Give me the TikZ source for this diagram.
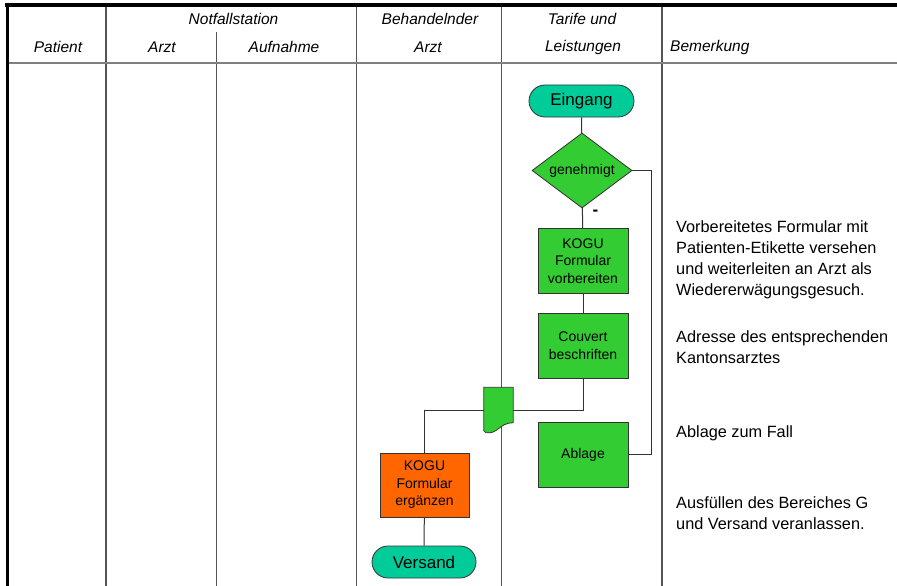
\documentclass[tikz,border=0pt]{standalone}
\usepackage{fontspec}
\setmainfont{Liberation Sans}
\usetikzlibrary{calc,shapes.geometric,shapes.misc}
\definecolor{teal}{HTML}{00CC99}
\definecolor{leaf}{HTML}{33CC33}
\definecolor{rust}{HTML}{FF6600}
\definecolor{edge}{HTML}{333333}
\definecolor{lane}{HTML}{555555}
\begin{document}
\begin{tikzpicture}[x=1pt,y=-1pt,
  hdr/.style={font=\fontsize{15.5}{15.5}\selectfont\itshape, inner sep=0pt},
  note/.style={font=\fontsize{16.3}{21.3}\selectfont, align=left, anchor=north west, inner sep=0pt},
  terminal/.style={rounded rectangle, draw=edge, line width=0.8pt, fill=teal,
    minimum width=105pt, minimum height=32pt, inner sep=0pt,
    font=\fontsize{17}{17}\selectfont},
  decision/.style={diamond, draw=edge, line width=0.8pt, fill=leaf, aspect=1.33,
    minimum width=100pt, minimum height=75pt, inner sep=0pt,
    font=\fontsize{14}{14}\selectfont},
  task/.style={rectangle, draw=edge, line width=0.8pt, fill=leaf,
    minimum width=90pt, minimum height=65pt, inner sep=0pt, align=center,
    font=\fontsize{14}{17.5}\selectfont},
  flow/.style={draw=edge, line width=1pt},
  laneline/.style={draw=lane, line width=1.5pt}]
\useasboundingbox (0,0) rectangle (897,586);
\fill[white] (0,0) rectangle (897,586);

% swimlane grid
\draw[laneline] (106,5) -- (106,586);
\draw[laneline] (216.5,32) -- (216.5,586);
\draw[laneline] (356.5,5) -- (356.5,586);
\draw[laneline] (501.5,5) -- (501.5,586);
\draw[laneline] (662,5) -- (662,586);
\draw[draw=gray, line width=2pt] (7,63) -- (897,63);
\draw[black, line width=4pt] (5,5) -- (897,5);
\draw[black, line width=3pt] (7.5,3) -- (7.5,586);

% column headings
\node[hdr] (hNot) at (233.5,18.5) {Notfallstation};
\node[hdr] (hPat) at (58,47) {Patient};
\node[hdr] (hArzt) at (162,47) {Arzt};
\node[hdr] (hAuf) at (284,47) {Aufnahme};
\node[hdr] (hBeh) at (430,18.5) {Behandelnder};
\node[hdr] (hBehArzt) at (428,47) {Arzt};
\node[hdr] (hTar) at (582,18.5) {Tarife und};
\node[hdr] (hLei) at (583,47) {Leistungen};
\node[hdr, anchor=west] (hBem) at (670,47) {Bemerkung};

% flow elements
\node[terminal] (start) at (581.5,101) {Eingang};
\node[decision] (dia) at (582,170.5) {genehmigt};
\node[task] (prep) at (583,261) {KOGU\\Formular\\vorbereiten};
\node[task] (couv) at (583,345.5) {Couvert\\beschriften};
\node[task] (abl) at (583,454.5) {Ablage};
\node[task, fill=rust, minimum width=89pt, minimum height=64pt] (fill) at (424.5,485) {KOGU\\Formular\\ergänzen};
\node[terminal, minimum width=104pt] (end) at (424,562) {Versand};
\node[inner sep=0pt, minimum width=29pt, minimum height=45pt] (doc) at (498.5,410) {};
\node[font=\bfseries\fontsize{17}{17}\selectfont, inner sep=0pt] (no) at (595.5,212.5) {-};

% document symbol
\draw[draw=edge, line width=0.8pt, fill=leaf]
  (doc.north west) -- (doc.north east) -- ($(doc.south east)+(0,-10)$)
  .. controls ($(doc.south east)+(-14,-10)$) and ($(doc.south west)+(14,2)$) ..
  ($(doc.south west)+(2,0)$) -- ($(doc.south west)+(0,-2)$) -- cycle;

% connectors
\coordinate (ret) at (651,454.5);
\draw[flow] (start) -- (dia);
\draw[flow] (dia) -- (prep);
\draw[flow] (prep) -- (couv);
\draw[flow] (couv.south) |- (doc.east);
\draw[flow] (doc.west) -| (fill.north);
\draw[flow] (fill) -- (end);
\draw[flow] (abl.east) -- (ret) |- (dia.east);

% remarks
\node[note] (n1) at (676,220) {Vorbereitetes Formular mit\\Patienten-Etikette versehen\\und weiterleiten an Arzt als\\Wiedererwägungsgesuch.};
\node[note] (n2) at (676,330.5) {Adresse des entsprechenden\\Kantonsarztes};
\node[note] (n3) at (676,425) {Ablage zum Fall};
\node[note] (n4) at (676,496) {Ausfüllen des Bereiches G\\und Versand veranlassen.};
\end{tikzpicture}
\end{document}
